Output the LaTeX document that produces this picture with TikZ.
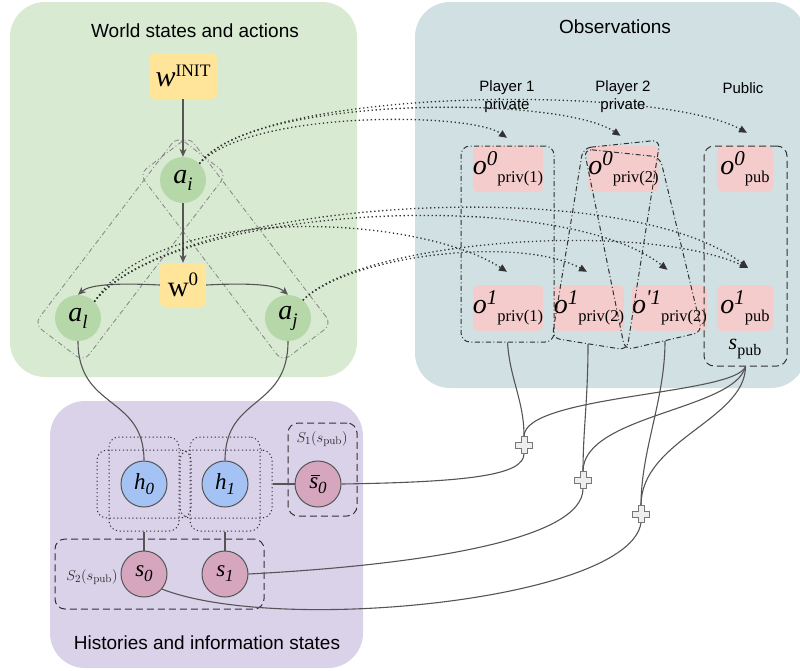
\documentclass[tikz,border=0pt]{standalone}
\usepackage[no-math]{fontspec}
\setmainfont{Liberation Sans}
\newfontfamily\tnr{Liberation Serif}
\usetikzlibrary{arrows.meta,calc}

\definecolor{worldbg}{HTML}{D9EAD3}
\definecolor{obsbg}{HTML}{D0E0E3}
\definecolor{histbg}{HTML}{D9D2E9}
\definecolor{statefill}{HTML}{FFE599}
\definecolor{actfill}{HTML}{B6D7A8}
\definecolor{obsfill}{HTML}{F4CCCC}
\definecolor{histfill}{HTML}{A4C2F4}
\definecolor{infofill}{HTML}{D5A6BD}
\definecolor{edgegray}{HTML}{555555}
\definecolor{darkline}{HTML}{333333}
\definecolor{groupgray}{HTML}{8C8C8C}
\definecolor{plusfill}{HTML}{EEEEEE}
\definecolor{plusline}{HTML}{777777}

\newcommand\fs[1]{\fontsize{#1}{#1}\selectfont}
\newcommand\actlab[1]{{\tnr\fs{28}\itshape a}\raisebox{-7pt}{\tnr\fs{19}\itshape #1}}
\newcommand\obslab[2]{{\tnr\fs{28}\itshape o}\raisebox{9.5pt}{\tnr\fs{21}\itshape #1}\raisebox{-8pt}{\tnr\fs{16.5}#2}}
\newcommand\circlab[2]{{\tnr\fs{23}\itshape #1}\raisebox{-5pt}{\tnr\fs{17}\itshape #2}}

\begin{document}
\begin{tikzpicture}[x=1pt,y=-1pt,
  title/.style={font=\fs{19}},
  collabel/.style={font=\fontsize{15}{18}\selectfont, align=center},
  statebox/.style={fill=statefill, rounded corners=5, inner sep=0},
  actnode/.style={circle, fill=actfill, minimum size=46, inner sep=0},
  obsbox/.style={fill=obsfill, rounded corners=6, inner sep=0, minimum height=46},
  histnode/.style={circle, draw=edgegray, line width=1, fill=histfill, minimum size=46, inner sep=0},
  infonode/.style={circle, draw=edgegray, line width=1, fill=infofill, minimum size=46, inner sep=0},
  actgroup/.style={draw=groupgray, line width=0.9, rounded corners=9, inner sep=0,
    dash pattern=on 5pt off 2.5pt on 1pt off 2.5pt},
  grpdashdot/.style={draw=darkline, line width=1, rounded corners=9, inner sep=0,
    dash pattern=on 5pt off 2.5pt on 1pt off 2.5pt},
  grpdashed/.style={draw=darkline, line width=1, rounded corners=10, inner sep=0,
    dash pattern=on 7pt off 4pt},
  hbox/.style={draw=darkline, line width=1, rounded corners=10, inner sep=0,
    dash pattern=on 1.2pt off 2.6pt},
  flow/.style={draw=edgegray, line width=1.1, -{Stealth[length=8pt,width=7pt]}},
  link/.style={draw=edgegray, line width=1.1},
  obsflow/.style={draw=darkline, line width=1.3, dash pattern=on 1.3pt off 2.7pt,
    -{Triangle[length=8pt,width=7pt]}},
  plusnode/.style={minimum size=17, inner sep=0},
  plusshape/.style={fill=plusfill, draw=plusline, line width=0.8},
  setlabel/.style={font=\fs{15}, text=black!85}
]
\useasboundingbox (0,0) rectangle (800,670);

% ---- panels ----
\fill[worldbg, rounded corners=35] (10,2) rectangle (357,377);
\fill[obsbg, rounded corners=35] (415,2) rectangle (806,388);
\fill[histbg, rounded corners=35] (50,401) rectangle (363,668);

\node[title] (ttlworld) at (195,31) {World states and actions};
\node[title] (ttlobs) at (615,27) {Observations};
\node[title] (ttlhist) at (207,643) {Histories and information states};

% ---- world states and actions ----
\node[statebox, minimum width=68, minimum height=46] (winit) at (183,76)
  {{\tnr\fs{30}\itshape w}\raisebox{10pt}{\tnr\fs{17.5}INIT}};
\node[statebox, minimum width=46, minimum height=44] (w0) at (183,285)
  {{\tnr\fs{29}w}\raisebox{11pt}{\tnr\fs{19}0}};
\node[actnode] (ai) at (183,180) {\actlab{i}};
\node[actnode] (al) at (78,318) {\actlab{l}};
\node[actnode] (aj) at (288,318) {\actlab{j}};

\node[actgroup, rotate=52.7, minimum width=236, minimum height=62] (grpL) at (130.5,249) {};
\node[actgroup, rotate=-52.7, minimum width=236, minimum height=62] (grpJ) at (235.5,249) {};

\draw[flow] (winit) -- (ai);
\draw[flow] (ai) -- (w0);
\draw[flow] (w0.west) .. controls (120,283) and (90,284) .. (al.north);
\draw[flow] (w0.east) .. controls (246,283) and (276,284) .. (aj.north);

% ---- observations ----
\node[collabel] (lab1) at (507,97) {Player 1\\private};
\node[collabel] (lab2) at (623,97) {Player 2\\private};
\node[collabel] (lab3) at (743,88) {Public};

\node[obsbox, minimum width=70] (o0a) at (508,169) {\obslab{0}{priv(1)}};
\node[obsbox, minimum width=69] (o0b) at (623.5,169) {\obslab{0}{priv(2)}};
\node[obsbox, minimum width=56] (o0c) at (745,169) {\obslab{0}{pub}};
\node[obsbox, minimum width=70] (o1a) at (508,308) {\obslab{1}{priv(1)}};
\node[obsbox, minimum width=68] (o1b) at (589,308) {\obslab{1}{priv(2)}};
\node[obsbox, minimum width=67] (o1c) at (669.5,308) {\obslab{'1}{priv(2)}};
\node[obsbox, minimum width=56] (o1d) at (745,308) {\obslab{1}{pub}};

\node[grpdashdot, minimum width=93, minimum height=196] (grp1) at (507.5,244) {};
\draw[grpdashdot, rounded corners=8] (583,148) -- (660,140) -- (627,350) -- (552,338) -- cycle;
\draw[grpdashdot, rounded corners=8] (584,149) -- (660,157) -- (702,332) -- (625,350) -- cycle;
\coordinate (grpA) at (588,344);
\coordinate (grpB) at (665,341);
\node[grpdashed, minimum width=83, minimum height=220] (grppub) at (745.5,256) {};
\node (spub) at (745,349) {{\tnr\fs{22}\itshape s}\raisebox{-6pt}{\tnr\fs{16}pub}};

% ---- histories and information states ----
\node[histnode] (h0) at (144,484) {\circlab{h}{0}};
\node[histnode] (h1) at (225,484) {\circlab{h}{1}};
\node[infonode] (sb) at (318,484)
  {{\tnr\fs{23}\itshape\rlap{\kern2pt\rule[12.5pt]{9pt}{1.1pt}}s}\raisebox{-5pt}{\tnr\fs{17}\itshape 0}};
\node[infonode] (s0) at (144,574) {\circlab{s}{0}};
\node[infonode] (s1) at (225,574) {\circlab{s}{1}};

\node[hbox, minimum width=70, minimum height=94] (h0tall) at (h0) {};
\node[hbox, minimum width=94, minimum height=68] (h0wide) at (h0) {};
\node[hbox, minimum width=70, minimum height=94] (h1tall) at (h1) {};
\node[hbox, minimum width=92, minimum height=68] (h1wide) at (226,484) {};

\node[grpdashed, minimum width=209, minimum height=70] (S2grp) at (159.5,574) {};
\node[grpdashed, minimum width=69, minimum height=93] (S1grp) at (322.5,469.5) {};
\node[setlabel] (S1lab) at (322,439) {$S_1(s_{\mathrm{pub}})$};
\node[setlabel] (S2lab) at (92,577) {$S_2(s_{\mathrm{pub}})$};

\node[plusnode] (p1) at (524,445) {};
\node[plusnode] (p2) at (583,480) {};
\node[plusnode] (p3) at (641,514) {};

% ---- observation flows (dotted) ----
\draw[obsflow] (ai.45) .. controls (250,110) and (470,112) .. ($(o0a.north)+(-1,-8)$);
\draw[obsflow] (ai.45) .. controls (250,95) and (560,95) .. ($(o0b.north)+(-3,-10)$);
\draw[obsflow] (ai.45) .. controls (260,85) and (660,85) .. ($(o0c.north)+(2,-13)$);
\draw[obsflow] (al.45) .. controls (170,200) and (620,170) .. ($(o1d.north)+(3,-17)$);
\draw[obsflow] (al.45) .. controls (170,205) and (560,185) .. ($(o1c.north)+(-2,-15)$);
\draw[obsflow] (al.45) .. controls (160,200) and (420,215) .. ($(o1a.north)+(-1,-13)$);
\draw[obsflow] (aj.50) .. controls (350,255) and (520,235) .. ($(o1b.north)+(-2,-13)$);
\draw[obsflow] (aj.50) .. controls (360,240) and (640,220) .. ($(o1d.north)+(3,-17)$);

% ---- links ----
\draw[link] (al.south) .. controls (78,410) and (144,395) .. (h0.north);
\draw[link] (aj.south) .. controls (288,410) and (225,395) .. (h1.north);
\draw[link] (h0tall.south) -- (s0.north);
\draw[link] (h1tall.south) -- (s1.north);
\draw[link] (h1wide.east) -- (sb.west);

\draw[link] (grp1.south) .. controls (510,380) and (524,400) .. (p1.north);
\draw[link] (grpA) .. controls (588,400) and (583,430) .. (p2.north);
\draw[link] (grpB) .. controls (665,400) and (641,450) .. (p3.north);
\draw[link] (grppub.south) .. controls (735,395) and (524,395) .. (p1.north);
\draw[link] (grppub.south) .. controls (735,410) and (583,415) .. (p2.north);
\draw[link] (grppub.south) .. controls (745,420) and (641,440) .. (p3.north);

\draw[link] (p1.south) .. controls (524,475) and (470,482) .. (sb.east);
\draw[link] (p2.south) .. controls (583,540) and (420,565) .. (s1.east);
\draw[link] (p3.south) .. controls (630,600) and (280,635) .. (s0.-40);

% ---- sum markers ----
\foreach \p in {p1,p2,p3}
  \draw[plusshape, shift={(\p)}] (-3,-8.5) -- (3,-8.5) -- (3,-3) -- (8.5,-3) -- (8.5,3)
    -- (3,3) -- (3,8.5) -- (-3,8.5) -- (-3,3) -- (-8.5,3) -- (-8.5,-3) -- (-3,-3) -- cycle;
\end{tikzpicture}
\end{document}
